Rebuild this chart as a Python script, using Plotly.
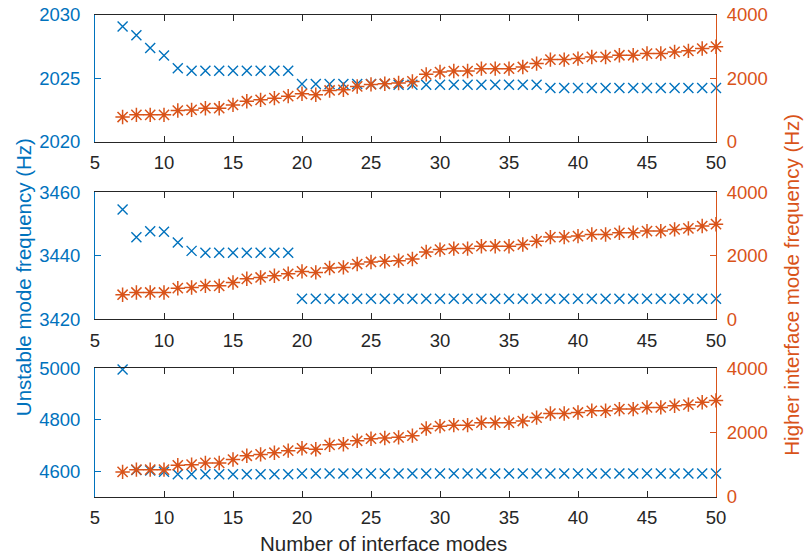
import plotly.graph_objects as go

# ---------------- data ----------------
modes = [7, 8, 9, 10, 11, 12, 13, 14, 15, 16, 17, 18, 19, 20, 21, 22, 23, 24, 25, 26,
         27, 28, 29, 30, 31, 32, 33, 34, 35, 36, 37, 38, 39, 40, 41, 42, 43, 44, 45, 46,
         47, 48, 49, 50]

higher_freq = [780, 850, 850, 850, 985, 1005, 1058, 1058, 1164, 1280, 1323, 1376, 1439, 1513,
               1482, 1619, 1640, 1746, 1810, 1831, 1852, 1905, 2127, 2200, 2232, 2232, 2307,
               2307, 2307, 2360, 2466, 2593, 2593, 2625, 2677, 2677, 2730, 2730, 2783, 2783,
               2836, 2868, 2942, 3000]

unstable_1 = [2029.1, 2028.4, 2027.4, 2026.8, 2025.8, 2025.6, 2025.6, 2025.6, 2025.6, 2025.6,
              2025.6, 2025.6, 2025.6, 2024.55, 2024.55, 2024.55, 2024.55, 2024.55, 2024.55,
              2024.55, 2024.5, 2024.5, 2024.5, 2024.5, 2024.5, 2024.5, 2024.5, 2024.5, 2024.5,
              2024.5, 2024.5, 2024.25, 2024.25, 2024.25, 2024.25, 2024.25, 2024.25, 2024.25,
              2024.25, 2024.25, 2024.25, 2024.25, 2024.25, 2024.25]

unstable_2 = [3454.6, 3445.9, 3447.8, 3447.6, 3444.2, 3441.6, 3441.0, 3441.0, 3441.0, 3441.0,
              3441.0, 3441.0, 3441.0, 3426.5, 3426.5, 3426.5, 3426.5, 3426.5, 3426.5, 3426.5,
              3426.5, 3426.5, 3426.5, 3426.5, 3426.5, 3426.5, 3426.5, 3426.5, 3426.5, 3426.5,
              3426.5, 3426.5, 3426.5, 3426.5, 3426.5, 3426.5, 3426.5, 3426.5, 3426.5, 3426.5,
              3426.5, 3426.5, 3426.5, 3426.5]

unstable_3 = [4995, 4605, 4603, 4598, 4588, 4588, 4588, 4588, 4588, 4588, 4588, 4588, 4588,
              4591, 4591, 4591, 4591, 4591, 4591, 4591, 4591, 4591, 4591, 4591, 4591, 4591,
              4591, 4591, 4591, 4591, 4591, 4591, 4591, 4591, 4591, 4591, 4591, 4591, 4591,
              4591, 4591, 4591, 4591, 4591]

x_ticks = [5, 10, 15, 20, 25, 30, 35, 40, 45, 50]
left_ticks = [[2020, 2025, 2030], [3420, 3440, 3460], [4600, 4800, 5000]]
left_ranges = [[2020, 2030], [3420, 3460], [4500, 5000]]
right_ticks = [0, 2000, 4000]
right_range = [0, 4000]

unstable = [unstable_1, unstable_2, unstable_3]

# ---------------- style ----------------
BLUE = "#0072BD"
ORANGE = "#D95319"
DARK = "#262626"
FONT = "Liberation Sans, Arial, Helvetica, sans-serif"
FS = 18.5
FS_LABEL = 20.5

domains = [[0.737, 1.0], [0.3683, 0.6319], [0.0, 0.2672]]

fig = go.Figure()
layout = dict(
    template="none",
    width=806, height=560,
    margin=dict(l=95, r=90, t=15, b=63, autoexpand=False),
    paper_bgcolor="white", plot_bgcolor="white",
    showlegend=False,
    font=dict(family=FONT, size=FS, color=DARK),
)

for i in range(3):
    xa = "x" if i == 0 else f"x{i+1}"
    yl = 2 * i + 1
    yr = 2 * i + 2
    yl_ref = "y" if yl == 1 else f"y{yl}"
    yr_ref = f"y{yr}"
    fig.add_trace(go.Scatter(
        x=modes, y=unstable[i], xaxis=xa, yaxis=yl_ref, mode="markers",
        marker=dict(symbol="x-thin-open", size=10, color=BLUE, line=dict(color=BLUE, width=1.4)),
        cliponaxis=False))
    fig.add_trace(go.Scatter(
        x=modes, y=higher_freq, xaxis=xa, yaxis=yr_ref, mode="markers",
        marker=dict(symbol="asterisk-open", size=12, color=ORANGE, line=dict(color=ORANGE, width=1.5)),
        cliponaxis=False))

    xkey = "xaxis" if i == 0 else f"xaxis{i+1}"
    ylkey = "yaxis" if yl == 1 else f"yaxis{yl}"
    yrkey = f"yaxis{yr}"
    layout[xkey] = dict(
        domain=[0, 1], anchor=yl_ref, range=[5, 50], tickvals=x_ticks,
        ticks="inside", ticklen=6, tickcolor=DARK, tickwidth=1,
        showline=True, linecolor=DARK, linewidth=1, mirror="ticks",
        showgrid=False, zeroline=False, automargin=False,
        tickfont=dict(family=FONT, size=FS, color=DARK), ticklabelstandoff=4,
    )
    layout[ylkey] = dict(
        domain=domains[i], anchor=xa, range=left_ranges[i], tickvals=left_ticks[i],
        ticks="inside", ticklen=6, tickcolor=BLUE, tickwidth=1,
        showline=True, linecolor=BLUE, linewidth=1,
        showgrid=False, zeroline=False, automargin=False,
        tickfont=dict(family=FONT, size=FS, color=BLUE), ticklabelstandoff=10,
    )
    layout[yrkey] = dict(
        domain=domains[i], anchor=xa, overlaying=yl_ref, side="right",
        range=right_range, tickvals=right_ticks,
        ticks="inside", ticklen=6, tickcolor=ORANGE, tickwidth=1,
        showline=True, linecolor=ORANGE, linewidth=1,
        showgrid=False, zeroline=False, automargin=False,
        tickfont=dict(family=FONT, size=FS, color=ORANGE), ticklabelstandoff=6,
    )

layout["annotations"] = [
    dict(text="Unstable mode frequency (Hz)", xref="paper", yref="paper",
         x=-0.116, y=0.456, xanchor="center", yanchor="middle", textangle=-90,
         showarrow=False, font=dict(family=FONT, size=FS_LABEL, color=BLUE)),
    dict(text="Higher interface mode frequency (Hz)", xref="paper", yref="paper",
         x=1.122, y=0.44, xanchor="center", yanchor="middle", textangle=-90,
         showarrow=False, font=dict(family=FONT, size=FS_LABEL, color=ORANGE)),
    dict(text="Number of interface modes", xref="paper", yref="paper",
         x=0.465, y=-0.096, xanchor="center", yanchor="middle",
         showarrow=False, font=dict(family=FONT, size=FS_LABEL, color=DARK)),
]

fig.update_layout(**layout)
fig.write_html("out.html",
               config={"displayModeBar": False},
               post_script="document.body.style.margin='0';document.body.style.overflow='hidden';")
